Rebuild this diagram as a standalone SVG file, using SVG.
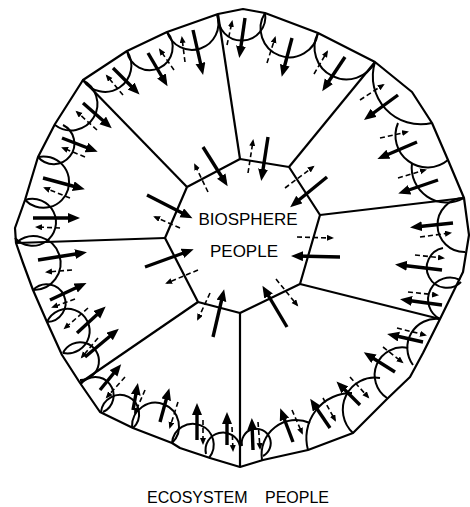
<svg xmlns="http://www.w3.org/2000/svg" width="470" height="507" viewBox="0 0 470 507">
<defs>
<marker id="hb" markerUnits="userSpaceOnUse" markerWidth="13" markerHeight="11" refX="7" refY="5" orient="auto"><path d="M0,0 L12,5 L0,10 z" fill="#000"/></marker>
<marker id="hs" markerUnits="userSpaceOnUse" markerWidth="8" markerHeight="7" refX="5" refY="3" orient="auto"><path d="M0,0 L7,3 L0,6 z" fill="#000"/></marker>
</defs>
<style>
.ln{fill:none;stroke:#000;stroke-width:2.2;stroke-linejoin:round}
.sc{fill:none;stroke:#000;stroke-width:2}
.ab{stroke:#000;stroke-width:3.4;marker-end:url(#hb)}
.as{stroke:#000;stroke-width:1.6;stroke-dasharray:5 3;marker-end:url(#hs)}
.t{font-family:"Liberation Sans",Arial,sans-serif;fill:#000}
</style>
<rect width="470" height="507" fill="#fff"/>
<g id="outer">
<path class="ln" d="M83,80 L127,51 L167,32 L218,14 L243,9 L265,13 L318,33 L375,62 L412,92 L432,123 L448,160 L464,198 L469,235 L463,272 L440,319 L423,353 L410,377 L387,399 L353,433 L308,450 L263,460 L240,467 L210,458 L180,448 L172,443 L133,428 L100,412 L80,383 L62,355 L47,322 L33,290 L23,263 L16,243 L15,228 L25,200 L38,157 L55,124 Z"/>
</g>
<g id="inner">
<path class="ln" d="M187,187 L240,159 L289,167 L320,215 L300,284 L240,313 L198,302 L165,238 Z"/>
<text class="t" x="248" y="225" font-size="17" text-anchor="middle">BIOSPHERE</text>
<text class="t" x="244" y="257" font-size="17" text-anchor="middle">PEOPLE</text>
</g>
<g id="scallops">
<path class="sc" d="M83,80 A1,1 0 0 0 127,51"/>
<path class="sc" d="M127,51 A23,23 0 1 0 167,32"/>
<path class="sc" d="M167,32 A1,1 0 0 0 217,15"/>
<path class="sc" d="M218,15 A23.7,23.7 0 1 0 265,13"/>
<path class="sc" d="M265,13 A28.9,28.9 0 1 0 318,33"/>
<path class="sc" d="M318,33 A1,1 0 0 0 375,62"/>
<path class="sc" d="M375,62 A48,48 0 0 0 432,123"/>
<path class="sc" d="M398,123 A32,32 0 0 0 448,160"/>
<path class="sc" d="M412,163 A35,35 0 0 0 464,198"/>
<path class="sc" d="M464,198 A1,1 0 0 0 465,252"/>
<path class="sc" d="M443,248 A20.1,20.1 0 1 0 461,282"/>
<path class="sc" d="M460,280 A1,1 0 0 0 440,319"/>
<path class="sc" d="M440,319 A29,29 0 0 0 413,365"/>
<path class="sc" d="M408,348 A27.6,27.6 0 0 0 387,398"/>
<path class="sc" d="M380,378 A32,32 0 0 0 353,433"/>
<path class="sc" d="M352,393 A45,45 0 0 0 308,450"/>
<path class="sc" d="M310,423 A34.5,34.5 0 0 0 262,460"/>
<path class="sc" d="M263,456 A14.5,14.5 0 1 0 242,446"/>
<path class="sc" d="M240,446 A1,1 0 0 0 206,454"/>
<path class="sc" d="M209,458 A20.9,20.9 0 1 0 172,443"/>
<path class="sc" d="M172,443 A23.5,23.5 0 1 0 132,427"/>
<path class="sc" d="M133,428 A19.1,19.1 0 1 0 101,412"/>
<path class="sc" d="M103,412 A18.3,18.3 0 1 0 81,384"/>
<path class="sc" d="M80,380 A18.9,18.9 0 1 0 63,353"/>
<path class="sc" d="M63,353 A22.3,22.3 0 1 0 47,322"/>
<path class="sc" d="M47,322 A18.9,18.9 0 1 0 33,290"/>
<path class="sc" d="M33,290 A26.9,26.9 0 1 0 17,242"/>
<path class="sc" d="M15,238 A23.5,23.5 0 1 0 25,200"/>
<path class="sc" d="M25,200 A25.7,25.7 0 1 0 38,157"/>
<path class="sc" d="M38,157 A20.7,20.7 0 1 0 63,125"/>
<path class="sc" d="M55,125 A26.4,26.4 0 1 0 82,80"/>
</g>
<g id="connectors">
<line class="ln" x1="187" y1="187" x2="83" y2="80"/>
<line class="ln" x1="240" y1="159" x2="218" y2="14"/>
<line class="ln" x1="289" y1="167" x2="375" y2="62"/>
<line class="ln" x1="320" y1="215" x2="464" y2="198"/>
<line class="ln" x1="300" y1="284" x2="440" y2="319"/>
<line class="ln" x1="240" y1="313" x2="240" y2="467"/>
<line class="ln" x1="198" y1="302" x2="80" y2="383"/>
<line class="ln" x1="165" y1="238" x2="16" y2="243"/>
</g>
<g id="arrows">
<line class="ab" x1="203" y1="147" x2="225" y2="182"/>
<line class="ab" x1="268" y1="137" x2="262" y2="176"/>
<line class="ab" x1="327" y1="177" x2="294" y2="204"/>
<line class="ab" x1="340" y1="257" x2="296" y2="256"/>
<line class="ab" x1="287" y1="327" x2="265" y2="290"/>
<line class="ab" x1="213" y1="337" x2="223" y2="294"/>
<line class="ab" x1="145" y1="267" x2="189" y2="251"/>
<line class="ab" x1="147" y1="195" x2="188" y2="216"/>
<line class="ab" x1="113" y1="68" x2="136" y2="91"/>
<line class="ab" x1="148" y1="53" x2="165" y2="82"/>
<line class="ab" x1="193" y1="30" x2="202" y2="70"/>
<line class="ab" x1="245" y1="18" x2="240" y2="53"/>
<line class="ab" x1="292" y1="38" x2="283" y2="72"/>
<line class="ab" x1="345" y1="57" x2="325" y2="87"/>
<line class="ab" x1="398" y1="95" x2="368" y2="117"/>
<line class="ab" x1="417" y1="142" x2="382" y2="157"/>
<line class="ab" x1="438" y1="180" x2="403" y2="192"/>
<line class="ab" x1="453" y1="223" x2="415" y2="227"/>
<line class="ab" x1="442" y1="270" x2="400" y2="265"/>
<line class="ab" x1="442" y1="305" x2="405" y2="300"/>
<line class="ab" x1="423" y1="342" x2="392" y2="335"/>
<line class="ab" x1="395" y1="372" x2="368" y2="355"/>
<line class="ab" x1="360" y1="405" x2="340" y2="385"/>
<line class="ab" x1="330" y1="428" x2="313" y2="403"/>
<line class="ab" x1="293" y1="442" x2="282" y2="413"/>
<line class="ab" x1="253" y1="450" x2="252" y2="423"/>
<line class="ab" x1="227" y1="445" x2="227" y2="417"/>
<line class="ab" x1="197" y1="440" x2="197" y2="408"/>
<line class="ab" x1="160" y1="422" x2="168" y2="393"/>
<line class="ab" x1="133" y1="410" x2="137" y2="388"/>
<line class="ab" x1="100" y1="390" x2="118" y2="368"/>
<line class="ab" x1="85" y1="357" x2="115" y2="332"/>
<line class="ab" x1="77" y1="333" x2="102" y2="310"/>
<line class="ab" x1="50" y1="300" x2="82" y2="285"/>
<line class="ab" x1="38" y1="260" x2="82" y2="253"/>
<line class="ab" x1="83" y1="103" x2="108" y2="125"/>
<line class="ab" x1="62" y1="138" x2="93" y2="150"/>
<line class="ab" x1="43" y1="178" x2="80" y2="188"/>
<line class="ab" x1="33" y1="218" x2="75" y2="218"/>
<line class="as" x1="208" y1="192" x2="195" y2="165"/>
<line class="as" x1="248" y1="173" x2="253" y2="141"/>
<line class="as" x1="285" y1="188" x2="313" y2="167"/>
<line class="as" x1="297" y1="237" x2="332" y2="238"/>
<line class="as" x1="276" y1="279" x2="297" y2="305"/>
<line class="as" x1="210" y1="293" x2="198" y2="319"/>
<line class="as" x1="198" y1="270" x2="167" y2="283"/>
<line class="as" x1="180" y1="228" x2="155" y2="217"/>
<line class="as" x1="123" y1="95" x2="107" y2="76"/>
<line class="as" x1="174" y1="70" x2="160" y2="50"/>
<line class="as" x1="185" y1="62" x2="182" y2="38"/>
<line class="as" x1="227" y1="45" x2="232" y2="22"/>
<line class="as" x1="267" y1="63" x2="275" y2="38"/>
<line class="as" x1="314" y1="74" x2="327" y2="52"/>
<line class="as" x1="360" y1="100" x2="383" y2="85"/>
<line class="as" x1="380" y1="138" x2="407" y2="132"/>
<line class="as" x1="398" y1="178" x2="425" y2="170"/>
<line class="as" x1="420" y1="237" x2="450" y2="233"/>
<line class="as" x1="415" y1="255" x2="443" y2="258"/>
<line class="as" x1="408" y1="292" x2="437" y2="295"/>
<line class="as" x1="397" y1="328" x2="425" y2="335"/>
<line class="as" x1="383" y1="347" x2="402" y2="362"/>
<line class="as" x1="350" y1="377" x2="368" y2="397"/>
<line class="as" x1="323" y1="398" x2="335" y2="420"/>
<line class="as" x1="292" y1="410" x2="302" y2="433"/>
<line class="as" x1="258" y1="422" x2="260" y2="448"/>
<line class="as" x1="232" y1="427" x2="233" y2="450"/>
<line class="as" x1="203" y1="420" x2="203" y2="443"/>
<line class="as" x1="178" y1="402" x2="170" y2="427"/>
<line class="as" x1="145" y1="390" x2="135" y2="413"/>
<line class="as" x1="125" y1="377" x2="107" y2="397"/>
<line class="as" x1="98" y1="338" x2="82" y2="357"/>
<line class="as" x1="88" y1="308" x2="65" y2="328"/>
<line class="as" x1="75" y1="299" x2="53" y2="307"/>
<line class="as" x1="72" y1="270" x2="47" y2="272"/>
<line class="as" x1="97" y1="130" x2="77" y2="112"/>
<line class="as" x1="85" y1="157" x2="63" y2="148"/>
<line class="as" x1="70" y1="198" x2="45" y2="188"/>
<line class="as" x1="60" y1="228" x2="37" y2="227"/>
</g>
<text class="t" font-size="16" y="503"><tspan x="147">ECOSYSTEM</tspan><tspan x="265">PEOPLE</tspan></text>
</svg>
